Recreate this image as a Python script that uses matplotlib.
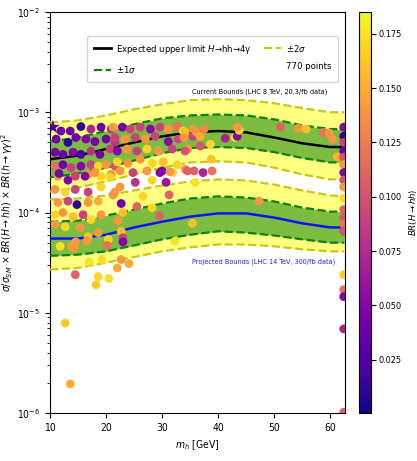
import matplotlib
matplotlib.use('Agg')
import matplotlib.pyplot as plt
from matplotlib.lines import Line2D
import numpy as np

plt.rcParams['font.family'] = ['DejaVu Sans']
plt.rcParams['font.stretch'] = 'condensed'
plt.rcParams['mathtext.fontset'] = 'custom'
plt.rcParams['mathtext.rm'] = 'DejaVu Sans:stretch=condensed'
plt.rcParams['mathtext.it'] = 'DejaVu Sans:italic:stretch=condensed'
plt.rcParams['mathtext.bf'] = 'DejaVu Sans:bold:stretch=condensed'
plt.rcParams['mathtext.sf'] = 'DejaVu Sans:stretch=condensed'

# Band curves (mass in GeV)
bandMass = [10, 15, 20, 25, 30, 35, 40, 45, 50, 55, 60, 62.5]

currentPlus2 = [7.9e-4, 8.3e-4, 9.3e-4, 1.07e-3, 1.2e-3, 1.32e-3, 1.35e-3, 1.32e-3, 1.23e-3, 1.1e-3, 1.0e-3, 1.0e-3]
currentPlus1 = [5.1e-4, 5.6e-4, 6.5e-4, 7.6e-4, 8.7e-4, 9.3e-4, 9.5e-4, 9.3e-4, 8.5e-4, 7.4e-4, 6.8e-4, 6.8e-4]
currentCentral = [3.4e-4, 3.7e-4, 4.3e-4, 5.0e-4, 5.75e-4, 6.3e-4, 6.5e-4, 6.3e-4, 5.6e-4, 4.9e-4, 4.5e-4, 4.5e-4]
currentMinus1 = [2.24e-4, 2.45e-4, 2.8e-4, 3.3e-4, 3.9e-4, 4.4e-4, 4.5e-4, 4.4e-4, 4.0e-4, 3.5e-4, 3.16e-4, 3.16e-4]
currentMinus2 = [1.62e-4, 1.78e-4, 2.04e-4, 2.4e-4, 2.8e-4, 3.16e-4, 3.24e-4, 3.16e-4, 2.8e-4, 2.4e-4, 2.14e-4, 2.14e-4]

projPlus2 = [1.35e-4, 1.38e-4, 1.48e-4, 1.66e-4, 1.86e-4, 2.04e-4, 2.14e-4, 2.09e-4, 1.9e-4, 1.66e-4, 1.48e-4, 1.45e-4]
projPlus1 = [8.1e-5, 8.3e-5, 9.3e-5, 1.07e-4, 1.23e-4, 1.38e-4, 1.45e-4, 1.41e-4, 1.29e-4, 1.12e-4, 1.02e-4, 1.02e-4]
projCentral = [5.5e-5, 5.5e-5, 6.0e-5, 7.1e-5, 8.1e-5, 9.1e-5, 9.8e-5, 9.8e-5, 8.9e-5, 7.8e-5, 7.1e-5, 7.1e-5]
projMinus1 = [3.7e-5, 3.8e-5, 4.1e-5, 4.7e-5, 5.4e-5, 6.0e-5, 6.5e-5, 6.3e-5, 5.9e-5, 5.4e-5, 5.0e-5, 5.0e-5]
projMinus2 = [2.7e-5, 2.8e-5, 3.16e-5, 3.6e-5, 4.1e-5, 4.5e-5, 4.8e-5, 4.8e-5, 4.6e-5, 4.3e-5, 4.1e-5, 4.1e-5]

# Scan points: mass, sigma x BR x BR, BR(H->hh)
pointMass = [
    11.95, 13.6, 15.5, 17.3, 19.1, 20.9, 11.1, 13.2, 14.6, 16.4, 18.0, 20.0, 21.6,
    10.9, 12.3, 14.1, 15.5, 17.3, 18.9, 20.7, 10.9, 12.3, 13.75, 15.5, 17.3, 18.6,
    20.0, 21.6, 11.4, 14.5, 16.8, 19.1, 20.9,
    11.6, 13.2, 16.25, 18.0, 20.7, 10.9, 12.7, 14.5, 16.8, 19.1, 21.6, 11.4, 13.2,
    14.8, 16.8, 18.6, 10.9, 12.3, 14.1, 15.9, 17.3, 19.1, 10.9, 12.7, 15.4, 16.8,
    18.6, 20.4, 11.8, 13.75,
    21.25, 22.9, 24.3, 26.1, 27.9, 29.6, 31.1, 32.7, 33.75, 21.6, 23.4, 25.2, 27.0,
    28.75, 31.1, 32.9, 22.0, 23.75, 25.5, 27.3, 29.3, 31.8, 22.0, 23.9, 26.1, 28.2,
    30.2, 32.7, 22.5, 24.8, 27.3, 30.0, 34.1, 31.9,
    22.5, 25.2, 29.6, 31.4, 28.2, 30.7, 31.25, 22.7, 23.0, 25.5, 28.2, 29.5, 26.6,
    22.1, 22.7, 23.0, 21.25, 32.3,
    14.3, 14.6, 16.6, 17.0, 14.5, 18.6, 18.2, 19.3, 20.5, 20.2, 22.0, 22.7, 24.1,
    23.0, 12.7, 13.6,
    35.5, 34.1, 33.9, 35.5, 36.1, 36.8, 37.5, 34.6, 34.1, 36.8, 38.6, 41.25, 43.0,
    43.4, 43.75, 43.4, 51.1, 54.3, 55.7, 58.75, 59.8, 60.4, 61.25, 62.0, 38.75,
    34.5, 35.7, 37.3, 38.9, 35.9, 47.3, 35.4,
    62.4, 62.4, 62.4, 62.4, 62.4, 62.4, 62.4, 62.4, 62.4, 62.4, 62.4, 62.4, 62.4,
    62.4, 62.4, 62.4, 62.4, 62.4, 62.4,
]
pointSigma = [
    6.5e-4, 6.5e-4, 7.2e-4, 6.8e-4, 7.1e-4, 6.8e-4, 5.4e-4, 5.0e-4, 5.6e-4, 5.4e-4, 5.1e-4, 5.4e-4, 5.0e-4,
    4.0e-4, 3.8e-4, 4.0e-4, 3.8e-4, 4.1e-4, 3.8e-4, 4.3e-4, 2.9e-4, 3.0e-4, 2.8e-4, 2.9e-4, 3.0e-4, 2.9e-4,
    3.0e-4, 2.9e-4, 2.3e-4, 2.3e-4, 2.4e-4, 2.3e-4, 2.4e-4,
    2.45e-4, 2.1e-4, 2.3e-4, 2.5e-4, 2.25e-4, 1.7e-4, 1.6e-4, 1.7e-4, 1.6e-4, 1.8e-4, 1.6e-4, 1.26e-4, 1.3e-4,
    1.2e-4, 1.26e-4, 1.3e-4, 9.5e-5, 1.0e-4, 9.1e-5, 9.5e-5, 8.5e-5, 9.5e-5, 7.6e-5, 7.2e-5, 7.1e-5, 5.75e-5,
    6.3e-5, 5.4e-5, 4.6e-5, 4.6e-5,
    7.1e-4, 7.1e-4, 6.8e-4, 7.1e-4, 6.8e-4, 7.1e-4, 6.8e-4, 7.2e-4, 6.5e-4, 5.6e-4, 5.4e-4, 5.6e-4, 5.4e-4,
    5.75e-4, 5.1e-4, 5.4e-4, 4.1e-4, 4.3e-4, 4.1e-4, 4.3e-4, 4.1e-4, 4.3e-4, 3.2e-4, 3.1e-4, 3.4e-4, 3.1e-4,
    3.2e-4, 3.0e-4, 2.6e-4, 2.5e-4, 2.6e-4, 2.6e-4, 2.7e-4, 2.5e-4,
    1.8e-4, 2.0e-4, 2.5e-4, 2.55e-4, 2.1e-4, 2.0e-4, 1.5e-4, 1.23e-4, 1.0e-4, 1.15e-4, 1.12e-4, 9.3e-5, 1.45e-4,
    8.3e-5, 6.5e-5, 5.6e-5, 1.5e-4, 5.2e-5,
    4.4e-5, 5.1e-5, 5.2e-5, 3.2e-5, 2.4e-5, 2.3e-5, 1.9e-5, 3.4e-5, 2.2e-5, 4.7e-5, 2.8e-5, 3.4e-5, 3.1e-5,
    5.1e-5, 7.9e-6, 1.95e-6,
    6.8e-4, 6.3e-4, 5.6e-4, 5.75e-4, 6.3e-4, 5.75e-4, 6.8e-4, 4.3e-4, 4.1e-4, 4.6e-4, 4.8e-4, 5.5e-4, 5.6e-4,
    5.75e-4, 6.6e-4, 7.1e-4, 7.1e-4, 6.9e-4, 6.8e-4, 6.3e-4, 6.2e-4, 5.4e-4, 3.6e-4, 3.5e-4, 3.4e-4,
    2.6e-4, 2.6e-4, 2.5e-4, 2.6e-4, 2.0e-4, 1.3e-4, 7.8e-5,
    7.1e-4, 5.75e-4, 5.0e-4, 4.1e-4, 3.55e-4, 3.0e-4, 2.5e-4, 2.1e-4, 1.8e-4, 1.4e-4, 1.07e-4, 8.9e-5, 7.6e-5,
    6.5e-5, 2.4e-5, 1.7e-5, 1.45e-5, 6.9e-6, 1.02e-6,
]
pointBR = [
    0.04, 0.04, 0.01, 0.07, 0.04, 0.08, 0.04, 0.01, 0.04, 0.05, 0.04, 0.04, 0.08,
    0.04, 0.04, 0.05, 0.02, 0.08, 0.04, 0.09, 0.12, 0.04, 0.09, 0.05, 0.09, 0.17,
    0.14, 0.10, 0.14, 0.09, 0.14, 0.17, 0.14,
    0.04, 0.05, 0.05, 0.14, 0.17, 0.14, 0.17, 0.09, 0.09, 0.17, 0.14, 0.14, 0.09,
    0.01, 0.14, 0.15, 0.17, 0.14, 0.16, 0.09, 0.17, 0.14, 0.14, 0.17, 0.14, 0.16,
    0.14, 0.17, 0.175, 0.14,
    0.14, 0.04, 0.09, 0.09, 0.05, 0.09, 0.14, 0.12, 0.17, 0.09, 0.14, 0.09, 0.14,
    0.09, 0.05, 0.09, 0.05, 0.14, 0.09, 0.17, 0.14, 0.09, 0.17, 0.14, 0.14, 0.17,
    0.16, 0.17, 0.14, 0.09, 0.14, 0.05, 0.14, 0.17,
    0.14, 0.08, 0.05, 0.14, 0.17, 0.06, 0.11, 0.04, 0.16, 0.11, 0.17, 0.11, 0.17,
    0.14, 0.16, 0.09, 0.14, 0.175,
    0.14, 0.14, 0.14, 0.175, 0.11, 0.17, 0.165, 0.175, 0.175, 0.12, 0.15, 0.14, 0.15,
    0.05, 0.165, 0.15,
    0.14, 0.16, 0.14, 0.09, 0.14, 0.15, 0.13, 0.14, 0.10, 0.10, 0.17, 0.07, 0.175,
    0.05, 0.17, 0.14, 0.11, 0.14, 0.16, 0.12, 0.14, 0.14, 0.155, 0.14, 0.16,
    0.11, 0.11, 0.07, 0.12, 0.175, 0.14, 0.16,
    0.05, 0.01, 0.09, 0.04, 0.10, 0.14, 0.05, 0.10, 0.14, 0.17, 0.11, 0.10, 0.12,
    0.10, 0.165, 0.12, 0.05, 0.07, 0.11,
]
starMass = [10.5]
starSigma = [7.1e-4]
starBR = [0.02]
numberOfPoints = 770


def drawBand(axes, lower2, lower1, central, upper1, upper2, centralColor):
    axes.fill_between(bandMass, lower2, upper2, color='#ffff80', zorder=1, linewidth=0)
    axes.fill_between(bandMass, lower1, upper1, color='#7cbc40', zorder=2, linewidth=0)
    for values in [lower2, upper2]:
        axes.plot(bandMass, values, '--', color='#c8c814', linewidth=1.6, zorder=3)
    for values in [lower1, upper1]:
        axes.plot(bandMass, values, '--', color='#0d800d', linewidth=1.6, zorder=3)
    axes.plot(bandMass, central, '-', color=centralColor, linewidth=1.8, zorder=3)


def main():
    figure = plt.figure(figsize=(4.17, 4.61), dpi=100)
    axes = figure.add_axes([0.12, 0.104, 0.707, 0.870])
    colorAxes = figure.add_axes([0.862, 0.104, 0.027, 0.870])

    drawBand(axes, currentMinus2, currentMinus1, currentCentral, currentPlus1, currentPlus2, 'black')
    drawBand(axes, projMinus2, projMinus1, projCentral, projPlus1, projPlus2, '#1010ff')

    scatter = axes.scatter(pointMass, pointSigma, c=pointBR, cmap='plasma', vmin=0.0005, vmax=0.185,
                           s=40, edgecolors='none', zorder=4)
    axes.scatter(starMass, starSigma, c=starBR, cmap='plasma', vmin=0.0005, vmax=0.185,
                 s=110, marker='*', edgecolors='none', zorder=5)

    axes.set_yscale('log')
    axes.set_xlim(10, 62.6)
    axes.set_ylim(1e-6, 1e-2)
    axes.set_xticks([10, 20, 30, 40, 50, 60])
    axes.tick_params(labelsize=7.5)
    axes.set_xlabel(r'$m_h$ [GeV]', fontsize=7.5)
    axes.set_ylabel(r'$\sigma/\sigma_{SM}\,\times\,BR(H\rightarrow hh)\,\times\,BR(h\rightarrow\gamma\gamma)^2$',
                    fontsize=7.5)
    axes.yaxis.set_label_coords(-0.12, 0.5)

    axes.text(0.94, 0.80, 'Current Bounds (LHC 8 TeV, 20.3/fb data)', transform=axes.transAxes,
              ha='right', va='center', fontsize=5.2, color='black')
    axes.text(0.968, 0.377, 'Projected Bounds (LHC 14 TeV, 300/fb data)', transform=axes.transAxes,
              ha='right', va='center', fontsize=5.2, color='#2020ff')

    handles = [Line2D([], [], color='black', linewidth=2),
               Line2D([], [], color='#0d800d', linestyle='--', linewidth=1.6),
               Line2D([], [], color='#c8c814', linestyle='--', linewidth=1.6),
               Line2D([], [], linestyle='none')]
    labels = ['Expected upper limit $H$\u2192hh\u21924\u03b3', r'$\pm1\sigma$', r'$\pm2\sigma$',
              '{} points'.format(numberOfPoints)]
    legend = axes.legend(handles, labels, ncol=2, loc='upper left', bbox_to_anchor=(0.11, 0.952),
                         fontsize=6.8, handlelength=1.8, handletextpad=0.6, columnspacing=1.2,
                         borderpad=0.7, labelspacing=0.9)
    legend.set_zorder(10)

    colorbar = figure.colorbar(scatter, cax=colorAxes)
    colorbar.set_ticks([0.025, 0.05, 0.075, 0.1, 0.125, 0.15, 0.175])
    colorbar.ax.set_yticklabels(['0.025', '0.050', '0.075', '0.100', '0.125', '0.150', '0.175'])
    colorbar.ax.tick_params(labelsize=6.6, pad=2)
    colorbar.set_label(r'$BR(H\rightarrow hh)$', fontsize=6.8)
    colorbar.ax.yaxis.set_label_coords(4.2, 0.5)

    plt.savefig('out.png', dpi=100)


if __name__ == '__main__':
    main()
